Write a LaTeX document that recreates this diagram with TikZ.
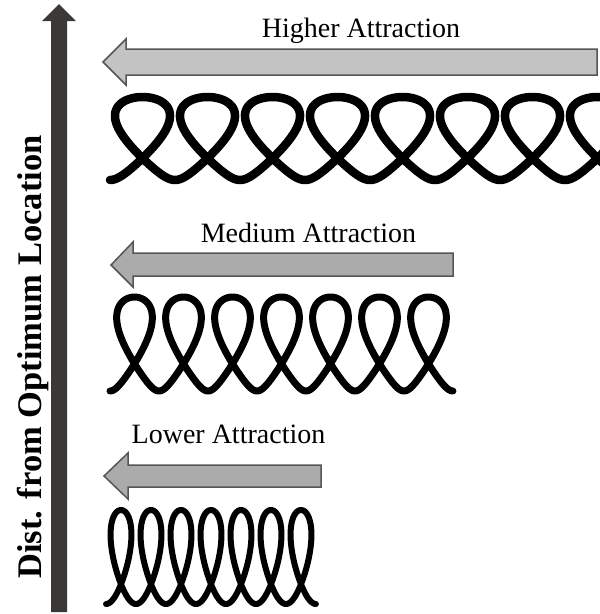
\documentclass[tikz,border=0pt]{standalone}
\usepackage{fontspec}
\setmainfont{Liberation Serif}
\usepackage{xcolor}
\usepackage{tikz}
\usetikzlibrary{calc, positioning}

\definecolor{axisgray}{HTML}{3B3838}
\definecolor{lightbar}{HTML}{C3C3C3}
\definecolor{darkbar}{HTML}{ABABAB}
\definecolor{barline}{HTML}{555555}

\tikzset{
    bar/.style={draw=barline, line width=1.5pt, line join=miter},
    coil/.style={line width=#1, line join=round, line cap=round, samples=700},
    lbl/.style={anchor=base, font=\fontsize{28}{32}\selectfont},
}

\begin{document}
\begin{tikzpicture}[x=1pt, y=-1pt]
    \useasboundingbox (0,0) rectangle (600,614);

    % 1. Vertical axis
    \fill[axisgray] (51,612) -- (51,21) -- (42,21) -- (59,4) -- (76,21)
        -- (67,21) -- (67,612) -- cycle;
    \node[rotate=90, anchor=base, font=\bfseries\fontsize{34.5}{38}\selectfont]
        (axislbl) at (41.5,357) {Dist. from Optimum Location};

    % 2. Higher attraction
    \node[lbl] (lblhigh) at (361,37) {Higher Attraction};
    \filldraw[bar, fill=lightbar] (597,49) -- (126,49) -- (126,39) -- (103,62)
        -- (126,85) -- (126,75) -- (597,75) -- cycle;
    \begin{scope}
        \clip (0,0) rectangle (600,614);
        \draw[coil=8.5pt, variable=\t, domain=-1.5708:48.695]
            plot ({126.25 + 10.345*\t + 34*cos(\t r)*(1 + 0.6*sin(\t r))},
                  {138.5 - 41.5*sin(\t r)});
    \end{scope}

    % 3. Medium attraction
    \node[lbl] (lblmed) at (308.5,242) {Medium Attraction};
    \filldraw[bar, fill=darkbar] (453,253) -- (133,253) -- (133,242) -- (111,265)
        -- (133,287) -- (133,276) -- (453,276) -- cycle;
    \draw[coil=7pt, variable=\t, domain=-1.5708:42.412]
        plot ({122.25 + 7.7986*\t + 23*cos(\t r)*(1 + 0.6*sin(\t r))},
              {344 - 47*sin(\t r)});

    % 4. Lower attraction
    \node[lbl] (lbllow) at (228.5,443) {Lower Attraction};
    \filldraw[bar, fill=darkbar] (321,465) -- (128,465) -- (128,453) -- (104,476)
        -- (128,499) -- (128,487) -- (321,487) -- cycle;
    \draw[coil=6pt, variable=\t, domain=-1.5708:42.412]
        plot ({113.5 + 4.7746*\t + 15.5*cos(\t r)*(1 + 0.3*sin(\t r))},
              {557 - 47*sin(\t r)});
\end{tikzpicture}
\end{document}
